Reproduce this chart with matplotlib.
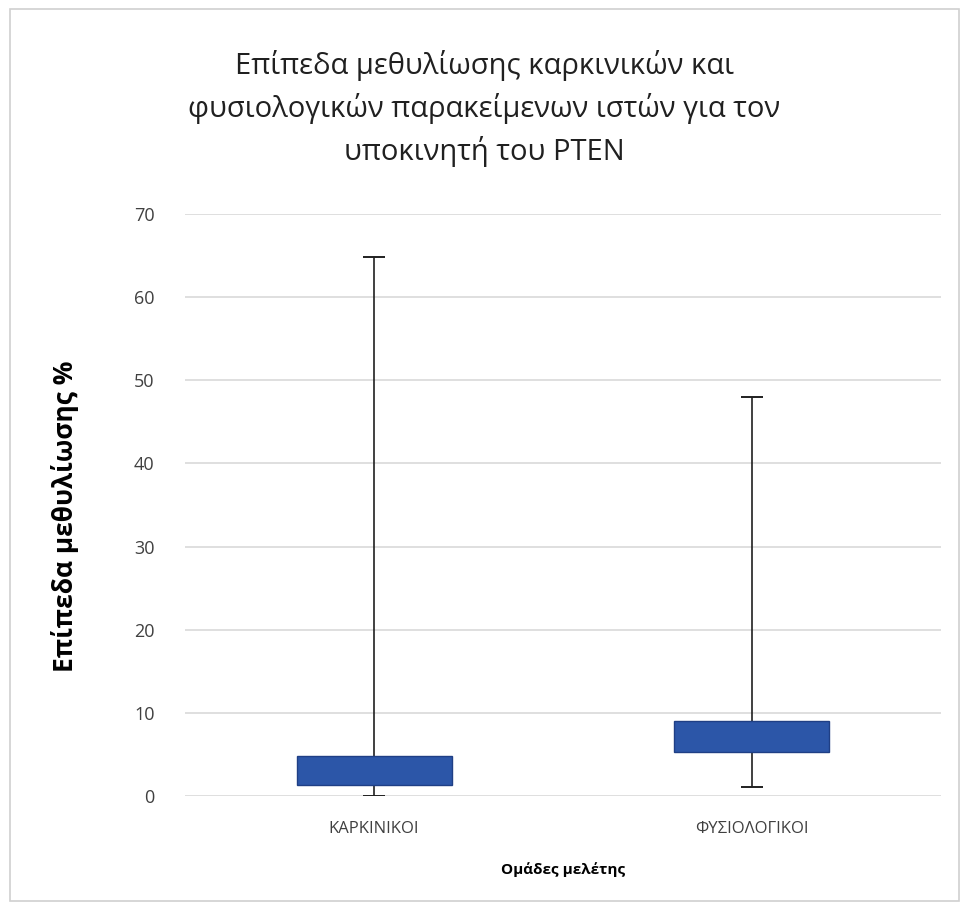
import matplotlib.pyplot as plt
from matplotlib.patches import Rectangle

# Δεδομένα (εκτίμηση από το γράφημα)
groups = ['ΚΑΡΚΙΝΙΚΟΙ', 'ΦΥΣΙΟΛΟΓΙΚΟΙ']
q1 = [1.4, 5.3]
q3 = [4.8, 9.1]
w_min = [0.0, 1.1]
w_max = [64.8, 48.0]
yticks = [0, 10, 20, 30, 40, 50, 60, 70]

plt.rcParams['font.family'] = ['Open Sans', 'DejaVu Sans']

fig = plt.figure(figsize=(9.69, 9.10), dpi=100)
ax = fig.add_axes([0.191, 0.125, 0.78, 0.64])

x = list(range(len(groups)))

# Μουστάκια (γραμμή + καπάκι)
for i in x:
    ax.vlines(i, w_min[i], w_max[i], color='#202020', linewidth=1.2, zorder=2)
    ax.hlines([w_min[i], w_max[i]], i - 0.03, i + 0.03, color='#202020', linewidth=1.4, zorder=2)

# Κουτιά
heights = [b - a for a, b in zip(q1, q3)]
ax.bar(x, heights, bottom=q1, width=0.41, color='#2c56a8',
       edgecolor='#1f3f85', linewidth=1, zorder=3)

ax.set_xlim(-0.5, 1.5)
ax.set_ylim(0, 70)
ax.set_yticks(yticks)
ax.set_xticks(x)
ax.set_xticklabels(groups, fontsize=12, color='#404040')
ax.tick_params(axis='y', labelsize=13, colors='#404040', length=0, pad=22)
ax.tick_params(axis='x', length=0, pad=18)
ax.grid(axis='y', color='#d9d9d9', linewidth=1.2)
ax.set_axisbelow(True)
for s in ax.spines.values():
    s.set_visible(False)

ax.set_ylabel('Επίπεδα μεθυλίωσης %', fontsize=19, fontweight='bold')
ax.yaxis.set_label_coords(-0.14, 0.48)
ax.set_xlabel('Ομάδες μελέτης', fontsize=11, fontweight='bold', labelpad=18)

fig.suptitle('Επίπεδα μεθυλίωσης καρκινικών και\nφυσιολογικών παρακείμενων ιστών για τον\nυποκινητή του PTEN',
             fontsize=21, y=0.945, linespacing=1.5, color='#202020')

fig.patches.append(Rectangle((0.01, 0.01), 0.98, 0.98, transform=fig.transFigure,
                             fill=False, edgecolor='#d0d0d0', linewidth=1.2))

fig.savefig('out.png', dpi=100)
